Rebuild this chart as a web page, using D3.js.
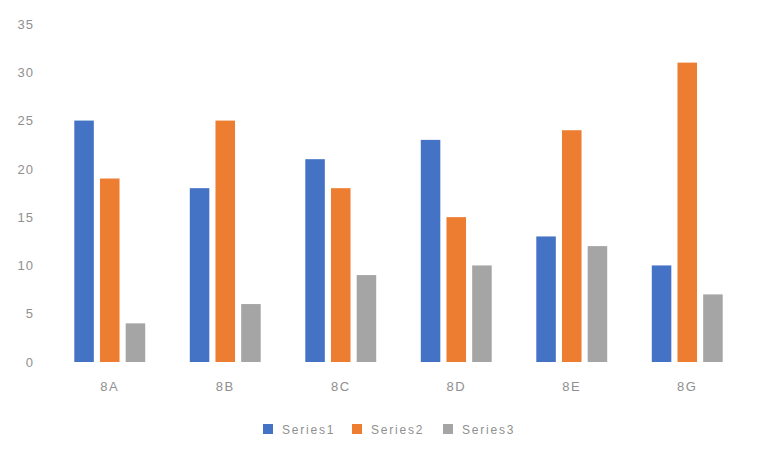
<!DOCTYPE html>
<html><head><meta charset="utf-8">
<script src="https://cdn.jsdelivr.net/npm/d3@7"></script>
<style>body{margin:0;background:#fff}svg{display:block}</style>
</head><body>
<script>
const categories = ["8A","8B","8C","8D","8E","8G"];
const seriesNames = ["Series1","Series2","Series3"];
const series1 = [25,18,21,23,13,10];
const series2 = [19,25,18,15,24,31];
const series3 = [4,6,9,10,12,7];
const yTicks = [0,5,10,15,20,25,30,35];
const colors = ["#4472C4","#ED7D31","#A5A5A5"];

const W=758,H=467;
const svg=d3.select("body").append("svg").attr("width",W).attr("height",H);
const values=[series1,series2,series3];
const x0=d3.scaleBand().domain(categories).range([52,745]).paddingInner(0.386).paddingOuter(0.193);
const x1=d3.scaleBand().domain(seriesNames).range([0,x0.bandwidth()]).paddingInner(0.24);
const y=d3.scaleLinear().domain([0,35]).range([362,24]);
const font="'Liberation Sans', Arial, sans-serif";
const textCol="#8f8f8f";

const yAxis=svg.append("g").attr("transform","translate(34,0)")
  .call(d3.axisLeft(y).tickValues(yTicks).tickSize(0).tickPadding(0));
yAxis.select(".domain").remove();
yAxis.selectAll("text").attr("fill",textCol).style("font-family",font).style("font-size","13px").style("letter-spacing","1px");

const xAxis=svg.append("g").attr("transform","translate(0,382)")
  .call(d3.axisBottom(x0).tickSize(0).tickPadding(0));
xAxis.select(".domain").remove();
xAxis.selectAll("text").attr("fill",textCol).style("font-family",font).style("font-size","13px").style("letter-spacing","1.5px");

const g=svg.append("g");
categories.forEach((c,i)=>{
  seriesNames.forEach((s,j)=>{
    g.append("rect")
      .attr("x",x0(c)+x1(s))
      .attr("y",y(values[j][i]))
      .attr("width",x1.bandwidth())
      .attr("height",y(0)-y(values[j][i]))
      .attr("fill",colors[j]);
  });
});

const legX=[263,352,443];
const leg=svg.append("g");
seriesNames.forEach((s,j)=>{
  leg.append("rect").attr("x",legX[j]).attr("y",424).attr("width",10).attr("height",10).attr("fill",colors[j]);
  leg.append("text").attr("x",legX[j]+19).attr("y",434).text(s)
    .attr("fill",textCol).style("font-family",font).style("font-size","12px").style("letter-spacing","1.8px");
});
</script>
</body></html>
